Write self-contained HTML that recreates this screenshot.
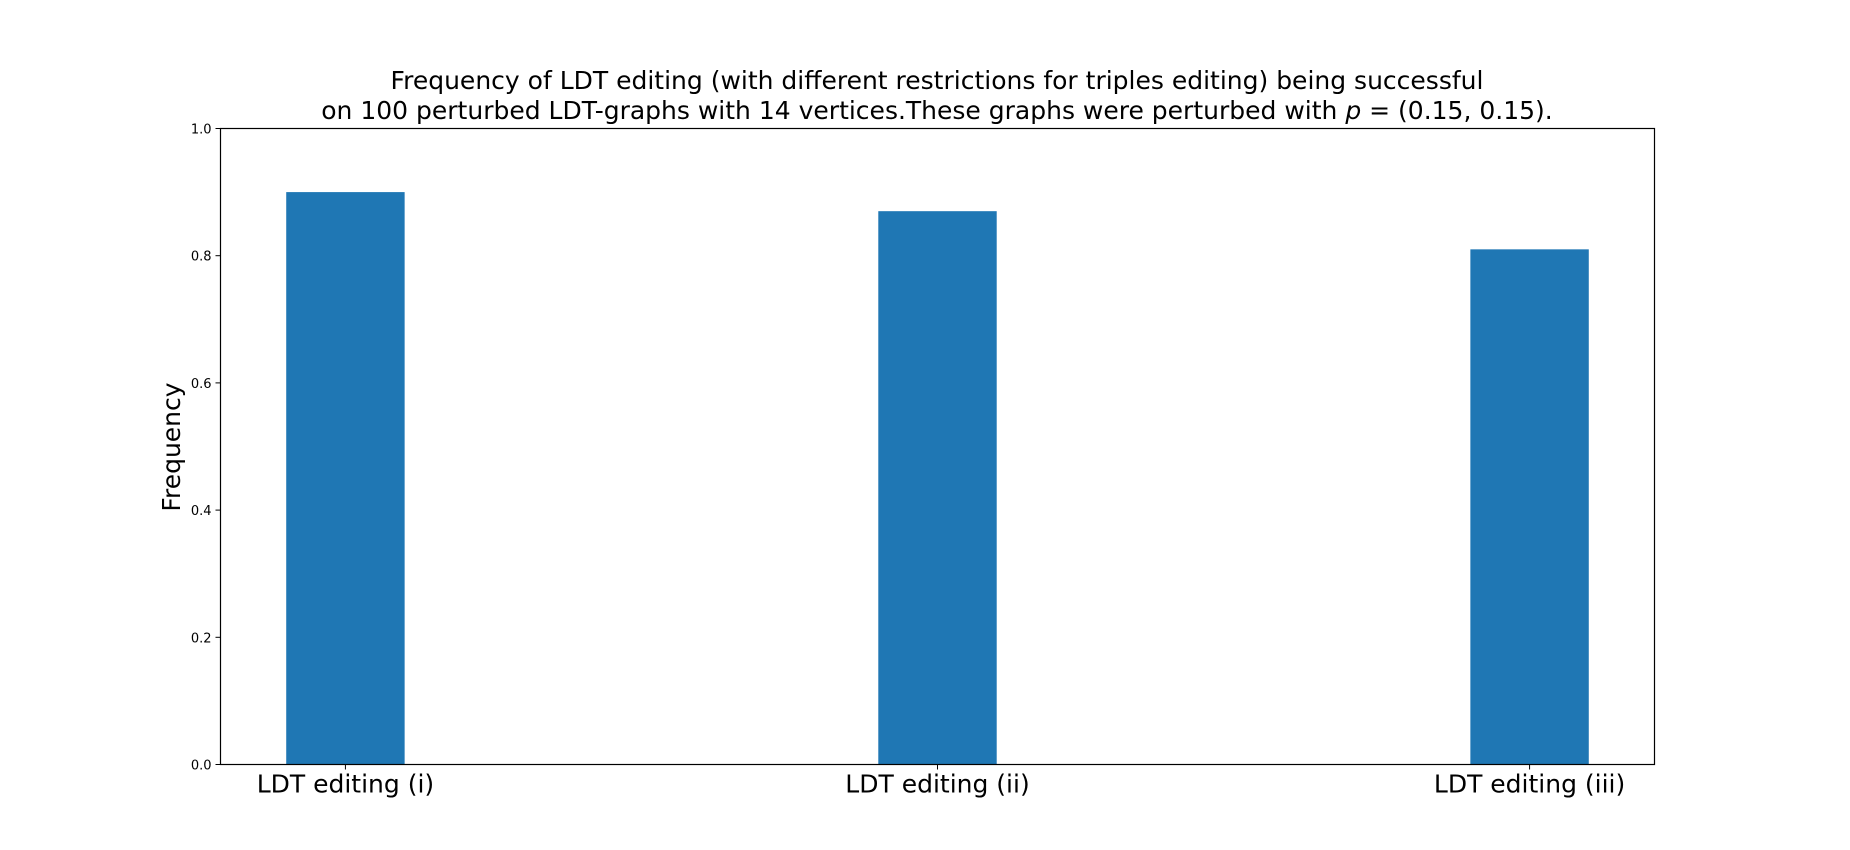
<!DOCTYPE html>
<html><head><meta charset="utf-8"><style>
body{margin:0;background:#fff}
svg{display:block;font-family:"DejaVu Sans","Liberation Sans",sans-serif}
</style></head><body>
<svg id="chart" width="1850" height="850">
<rect width="1850" height="850" fill="#fff"/>
<text x="937" y="89" font-size="25" text-anchor="middle">Frequency of LDT editing (with different restrictions for triples editing) being successful</text>
<text x="937" y="119" font-size="25" text-anchor="middle">on 100 perturbed LDT-graphs with 14 vertices.These graphs were perturbed with <tspan font-style="italic">p</tspan> = (0.15, 0.15).</text>
<g id="bars"></g>
<g id="yticks"></g>
<g id="xticks"></g>
<rect x="220.5" y="128.5" width="1434" height="636" fill="none" stroke="#000" stroke-width="1.2"/>
<text transform="translate(180,447) rotate(-90)" font-size="25" text-anchor="middle">Frequency</text>
</svg>
<script>
const categories=["LDT editing (i)","LDT editing (ii)","LDT editing (iii)"];
const values=[0.90,0.87,0.81];
const yTicks=[0,0.2,0.4,0.6,0.8,1.0];
const yTickLabels=["0.0","0.2","0.4","0.6","0.8","1.0"];
const L=220.5,R=1654.5,T=128.5,B=764.5;
const xmin=-0.211,xmax=2.211,bw=0.2;
const xs=v=>L+(v-xmin)/(xmax-xmin)*(R-L);
const ys=v=>B-v*(B-T);
const NS="http://www.w3.org/2000/svg";
const mk=(t,a)=>{const e=document.createElementNS(NS,t);for(const k in a)e.setAttribute(k,a[k]);return e;};
const gb=document.getElementById('bars'),gy=document.getElementById('yticks'),gx=document.getElementById('xticks');
categories.forEach((c,i)=>{
  const x0=xs(i-bw/2),x1=xs(i+bw/2);
  const r=mk('rect',{x:x0,y:ys(values[i]),width:x1-x0,height:ys(0)-ys(values[i]),fill:'#1f77b4'});
  
  
  gb.appendChild(r);
  const tk=mk('line',{x1:xs(i),x2:xs(i),y1:B,y2:B+5,stroke:'#000','stroke-width':1});
  
  
  gx.appendChild(tk);
  const t=mk('text',{x:xs(i),y:B+28,'font-size':25,'text-anchor':'middle'});
  t.textContent=c;
  
  
  gx.appendChild(t);
});
yTicks.forEach((v,i)=>{
  const tk=mk('line',{x1:L-5,x2:L,y1:ys(v),y2:ys(v),stroke:'#000','stroke-width':1});
  
  
  gy.appendChild(tk);
  const t=mk('text',{x:L-9,y:ys(v)+5,'font-size':13,'text-anchor':'end'});
  t.textContent=yTickLabels[i];
  
  
  gy.appendChild(t);
});
</script>
</body></html>
